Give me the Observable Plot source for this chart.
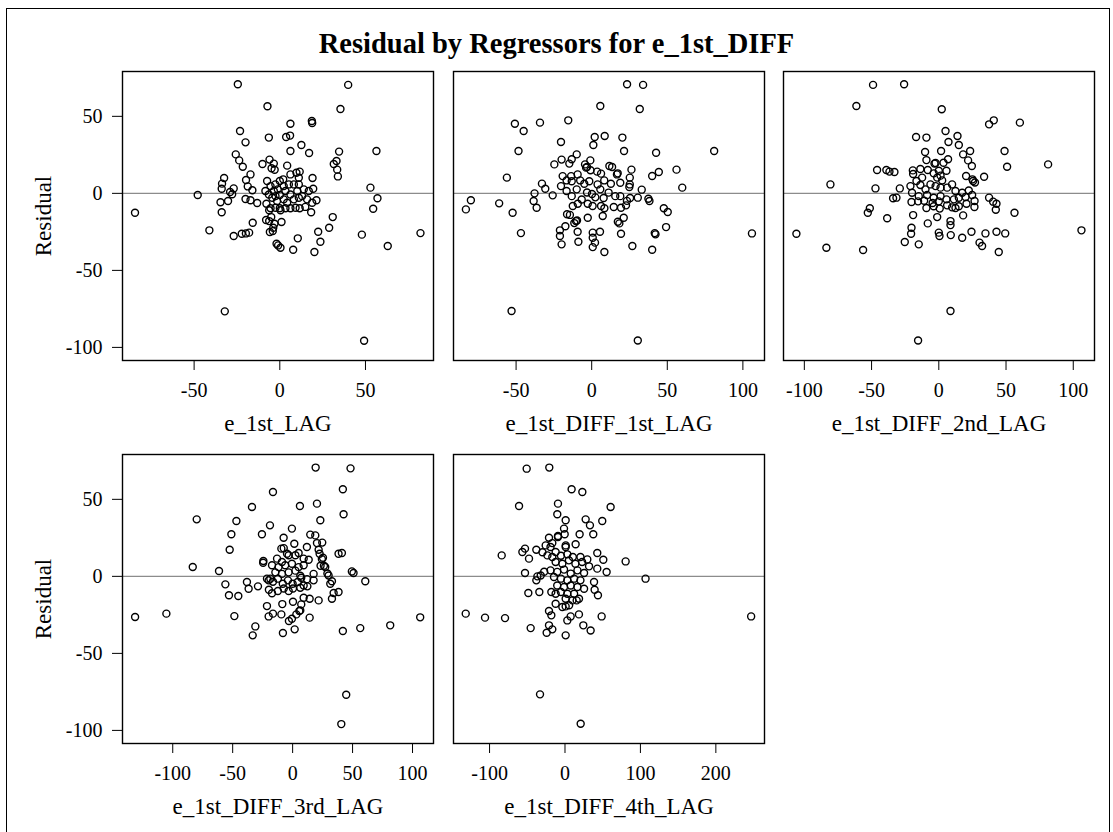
<!DOCTYPE html>
<html>
<head>
<meta charset="utf-8">
<script src="https://cdn.jsdelivr.net/npm/d3@7"></script>
<script src="https://cdn.jsdelivr.net/npm/@observablehq/plot@0.6"></script>
<style>
  html, body { margin: 0; padding: 0; background: white; }
  #chart { position: relative; width: 1113px; height: 832px; overflow: hidden; font-family: 'Liberation Serif', 'Times New Roman', serif; }
  #border { position: absolute; left: 6px; top: 8px; width: 1104px; height: 840px; border: 1.5px solid #000; box-sizing: border-box; }
  #title { position: absolute; left: 0; width: 1113px; top: 30px; text-align: center; font-weight: bold; font-size: 28.5px; line-height: 1; color: #000; }
  .panel { position: absolute; }
</style>
</head>
<body>
<div id="chart">
  <div id="border"></div>
  <div id="title">Residual by Regressors for e_1st_DIFF</div>
</div>
<script>
// ---- data (x value, residual) ----
const titleText = "Residual by Regressors for e_1st_DIFF";
const yLabel = "Residual";
const yTicks = [-100, -50, 0, 50];

const lag1Label = "e_1st_LAG";
const lag1Ticks = [-50, 0, 50];
const lag1Points = [
[-24.5,70.8],[39.9,70.4],[-7.2,56.5],[35.4,54.8],[18.7,47],[18.9,45.7],[6.2,45.2],[-23.2,40.5],[-20,33.1],[-6.4,36.2],[3.7,36.6],[6,37.5],[12.6,31.4],[6.2,27.5],[17.1,26.2],[34.6,27.1],[56.4,27.5],[-25.7,25.3],[-23.7,21.4],[-21.6,17.3],[-10.1,19.1],[-6,21.9],[4.3,18],[31.5,19.1],[33.1,21],[33.5,15.4],[33.9,11],[-32.5,10],[-33.7,6.3],[-33.9,3],[-26.9,3.2],[-29,0.9],[-27.8,-0.6],[-47.9,-1.1],[-30.2,-5],[-34.6,-5.8],[-33.9,-12.3],[-84.5,-12.6],[-41.1,-24],[-26.9,-27.7],[-22.2,-26.2],[-19.8,-26],[-17.9,-25.5],[-15.8,-19.1],[-17.1,12.3],[-19.7,8.7],[-18.7,4.5],[-16,2],[-20,-3.7],[-17.1,-4.5],[-13.2,-6.3],[-8,-17.3],[-6.2,-18],[-5.8,-25.1],[-4.1,-24.5],[-3.1,-19.7],[1,-18.6],[-1.9,-32.7],[-1,-33.8],[0.4,-35.3],[7.8,-36.6],[10.5,-29.2],[20.2,-38.1],[22.4,-24.9],[23.7,-31.4],[28.8,-22.3],[30.9,-15.4],[18.3,-12.3],[21.4,-4.5],[19.5,3],[19.1,10],[52.9,3.7],[57,-3.2],[54.5,-10],[47.9,-26.8],[63,-34.2],[82.1,-25.8],[-32.1,-76.6],[49.2,-95.7],
[-5.0,-15.4],[-3.8,-22.3],
[-3.5,19.3],[-4.8,16.3],[-3.0,15.3],[6.2,12.3],[9.7,13.4],[11.6,14.1],[11.1,10.1],[2.0,9.1],[0.0,8.0],[-7.4,8.0],[-5.4,4.7],[-2.6,5.8],[-1.2,2.6],[2.3,4.7],[5.3,5.8],[8.2,5.8],[11.1,5.8],[14.0,2.6],[16.9,1.5],[-8.4,1.5],[-6.4,-0.7],[-4.4,-2.9],[-2.5,-1.8],[0.0,-1.1],[2.3,-3.9],[6.2,-0.7],[8.2,-3.9],[11.1,-2.9],[13.0,-1.8],[15.9,-3.9],[18.9,-6.1],[-7.8,-6.7],[-5.4,-9.7],[-2.5,-9.3],[0.0,-9.7],[3.3,-9.7],[6.2,-9.7],[9.2,-9.3],[11.6,-9.7],[14.9,-8.8],[-6.2,-11.0],[0.4,-11.0],[4.3,-6.1],[-1.6,-5.0],[10.2,1.5],[3.3,1.5],[-3.5,1.5]
];

const diffLag1Label = "e_1st_DIFF_1st_LAG";
const diffLag1Ticks = [-50, 0, 50, 100];
const diffLag1Points = [
[23.4,70.8],[34,70.4],[5.7,56.7],[31.8,54.8],[-50.8,45.2],[-34.2,45.9],[-15.5,47.4],[-45,40.5],[2,36.6],[8.6,37.2],[20.3,36.2],[-20.3,33.3],[1.1,31.4],[-48.4,27.5],[21.4,27.5],[42.6,26.4],[81,27.5],[-9.9,25.3],[-13.2,22.1],[-19.9,21.9],[-24.7,18.8],[-14.8,19.3],[-4.4,18.8],[-0.9,21.4],[-3.1,17.1],[11.7,17.8],[13.5,17.1],[17.2,13],[26.3,15.4],[44.4,13.9],[56.1,15.4],[40,11.3],[-56.1,10.2],[59.9,3.7],[33.1,2.4],[25.2,10.2],[25.2,5.8],[-32.9,6.3],[-30.7,3],[-25.8,-1.3],[-37.8,0],[-38.4,-5],[-36.4,-9.3],[-79.9,-4.5],[-83.2,-10.4],[-61.2,-6.5],[-52.3,-12.6],[-46.8,-25.8],[-53,-76.4],[30.5,-95.5],[106,-26],[37.5,-3.5],[38.2,-5],[47.7,-9.7],[50.3,-12.1],[49.2,-21.9],[41.7,-25.8],[42.2,-26.6],[40,-36.6],[26.9,-34.2],[8.4,-38.1],[19.4,-26.2],[18.3,-19.5],[21.2,-15.8],[5.5,-24.9],[0.7,-25.5],[0.7,-28.8],[2.2,-32],[0.7,-34.9],[-8.8,-31.4],[-9.3,-24.9],[-10.4,-18],[-11.5,-19.3],[-16.3,-13.6],[-17.4,-21.4],[-21,-24],[-21,-27.7],[-19.9,-33.1],[-2.6,-15.8],[7.3,-14.7],[14.6,-8.9],[22.7,-7.8],[30.5,-2.8],
[-3.7,16.7],[-0.8,15.0],[3.6,14.1],[6.2,12.8],[16.7,12.3],[-19.2,11.2],[-13.6,11.2],[-16.6,8.4],[-13.2,7.9],[-7.6,8.4],[-9.3,12.3],[-4.9,6.2],[-1.6,7.9],[3.9,5.8],[8.3,8.4],[12.7,6.2],[18.9,6.9],[24.9,4.1],[-20.3,4.7],[-16.6,1.5],[-13.2,-1.8],[-9.9,2.6],[-6.6,-4.0],[-3.1,0.6],[0.2,-0.4],[2.4,-2.6],[5.7,2.6],[7.9,-3.0],[11.2,0.5],[15.6,-1.8],[18.9,-1.8],[23.3,-4.9],[25.4,-3.0],[-12.5,-8.2],[-9.2,-6.7],[-2.6,-6.7],[0.6,-8.2],[6.2,-8.2],[8.4,-9.7],[19.4,-9.3],[-14.4,-14.0],[17.3,-18.4],[-9.7,-17.6]
];

const diffLag2Label = "e_1st_DIFF_2nd_LAG";
const diffLag2Ticks = [-100, -50, 0, 50, 100];
const diffLag2Points = [
[-48.9,70.4],[-25.8,70.8],[-61.3,56.7],[2.2,54.6],[37.4,44.8],[40.9,47.4],[60.3,45.9],[5,40.5],[-16.9,36.6],[-9.2,36.2],[13.9,37.2],[7.2,33.3],[14.9,31.4],[1.7,27.5],[23.3,27.5],[48.9,27.5],[-10.2,26.8],[18.1,25.3],[21.8,21.4],[6.9,22.1],[-9.2,21.6],[-3.2,19.3],[3.5,19.9],[24.6,17.8],[50.8,17.3],[81.3,18.8],[-45.9,15.2],[-39,15.2],[-36.7,14.1],[-33,13.9],[-19.3,14.9],[33.7,10.8],[20.3,11.3],[25,9.1],[25.5,8],[-80.6,5.8],[-47.1,3.2],[-29,3.2],[-34,-3.2],[-31.5,-2.8],[-51.3,-9.7],[-52.8,-12.6],[-38.4,-16.2],[-105.9,-26.2],[-83.6,-35.3],[-56.3,-36.8],[-25.3,-31.6],[-14.9,-33.1],[-20.3,-22.3],[-20.6,-26.2],[-19.1,-14.1],[-8.2,-19.5],[-1.2,-15.4],[0,-25.5],[0.5,-27.7],[8.7,-18],[8.7,-20.6],[8.9,-27.1],[17.4,-28.8],[24.3,-24.9],[30.3,-32],[32.2,-34.2],[34.7,-26],[42.9,-24.9],[49.4,-26],[44.6,-38.1],[18.1,-14.3],[42.4,-10.6],[40.4,-5.4],[42.9,-6.7],[37.4,-2.8],[56.3,-12.6],[106.1,-24],[8.7,-76.4],[-15.4,-95.5],[26.5,-8.9],
[-2.4,19.7],[-19.1,12.6],[-13.7,15.8],[-8.2,15.2],[-3.8,13.0],[0.0,14.7],[1.3,11.5],[5.7,14.7],[2.5,8.4],[-1.2,10.2],[-12.4,10.2],[-16.6,8.0],[-21.1,4.7],[-13.7,5.4],[-9.9,2.6],[-6.2,5.8],[-2.4,4.7],[1.3,3.7],[6.2,3.7],[9.9,5.8],[12.4,1.5],[17.4,0.4],[22.3,1.9],[-19.9,0.4],[-14.9,-1.8],[-8.7,-1.1],[-3.8,-2.9],[1.3,-1.8],[5.7,-3.9],[11.2,-3.9],[14.9,-2.9],[19.9,-2.4],[24.8,-1.1],[-20.3,-5.6],[-15.4,-5.2],[-10.9,-4.8],[-4.6,-6.3],[0.0,-5.2],[6.2,-7.8],[9.9,-9.1],[14.9,-8.4],[20.6,-6.7],[-9.2,-9.5],[-3.8,-8.4],[0.7,-9.9],[12.4,-9.5],[26.9,7.0],[26.6,-5]
];

const diffLag3Label = "e_1st_DIFF_3rd_LAG";
const diffLag3Ticks = [-100, -50, 0, 50, 100];
const diffLag3Points = [
[19.2,70.6],[48.3,70.1],[-16.4,54.8],[41.9,56.5],[-33.9,45],[6.1,45.7],[20.3,47.2],[-80,37],[-46.9,35.9],[23.1,36.4],[42.5,40.3],[-18.9,33.1],[-51.1,27.3],[-25.6,27.3],[-7.5,25.1],[-0.6,31],[14.7,27.1],[18.9,26.6],[24.7,21.9],[1.4,21.2],[11.9,19.1],[20.3,21.6],[-9.4,18],[-52.5,17.3],[21.7,17.3],[22.5,14.7],[38.3,14.7],[41.1,15.2],[25.3,12.1],[-24.4,10],[-83.3,6.1],[-61.4,3.5],[-56.1,-5.2],[-38.1,-3.7],[-36.7,-8],[-28.9,-6.5],[-53.1,-12.3],[-45.3,-12.8],[-48.6,-25.8],[-131.4,-26.4],[-105.3,-24.2],[-33.3,-38.3],[-31.1,-32.5],[-21.4,-19.3],[-20,-26],[-16.4,-24.2],[-9.4,-24.7],[-8.6,-18],[-8.1,-36.8],[-3.1,-29],[-0.6,-27.5],[1.7,-34.4],[3.1,-24.7],[5.6,-22.5],[6.4,-22.1],[7.2,-18.2],[0.3,-16.5],[14.2,-26.8],[14.2,-14.5],[21.7,-15.6],[41.9,-35.5],[56.4,-33.6],[81.4,-31.8],[106.4,-26.6],[60.6,-3.2],[49.4,3.2],[50.8,2.2],[38.3,-10.2],[34.2,-10.8],[32.8,-14.5],[31.4,-4.8],[30,0.6],[27.2,6.1],[44.7,-76.9],[40.6,-95.9],[7.2,-0.9],
[-7.4,18.3],[-4.7,14.7],[-13.0,11.5],[-8.9,9.3],[-3.3,13.7],[2.3,13.7],[5.0,15.2],[9.2,11.5],[13.4,10.8],[-17.2,7.2],[-11.7,6.0],[-6.2,7.2],[-0.6,8.2],[5.0,6.0],[9.2,7.2],[-14.4,2.6],[-8.9,1.6],[-3.3,2.6],[2.3,3.7],[6.4,0.4],[12.0,-1.8],[17.5,1.6],[-21.4,-1.5],[-20.0,-2.6],[-18.6,-1.5],[-16.4,-3.5],[-12.3,-1.5],[-8.2,-4.8],[-3.9,-2.6],[0.0,-4.8],[4.2,-3.7],[9.2,-5.9],[-19.8,-8.7],[-12.3,-9.5],[-7.4,-7.9],[-3.3,-9.5],[0.3,-7.9],[6.4,-7.4],[12.3,-6.5],[17.5,-2.6],[9.2,-13.9],[-17.2,-11.0],[24.4,11.2],[23.3,6.9],[26.1,6.9],[29,1.9],[32.8,-3.2],[-24.6,8.8]
];

const diffLag4Label = "e_1st_DIFF_4th_LAG";
const diffLag4Ticks = [-100, 0, 100, 200];
const diffLag4Points = [
[-50.8,69.9],[-20.8,70.6],[8.8,56.5],[23,54.8],[-60.9,45.7],[-9.3,47.2],[60.5,45],[-10.2,40.3],[0.9,36.4],[27.4,37],[33.1,33.1],[49.4,35.9],[-1.3,31],[-0.4,27.3],[37.5,27.3],[19.4,27.3],[-9.3,26.2],[-21.2,25.1],[-16.8,21.6],[14.1,20.8],[0.9,19.1],[-53,18],[-56.5,15.8],[-38,17.3],[-47.7,11.5],[-83.9,13.6],[42.8,15.2],[50.8,10.8],[80.4,9.7],[-53,2.2],[-36.6,0],[-38,-2.6],[-32.2,0.6],[106.8,-1.5],[55.2,2.8],[42.8,5],[39.3,-8.7],[43.7,-12.3],[-48.6,-10.8],[-34,-10.2],[-18.1,-10.2],[-12.4,-17.8],[-131.6,-24.2],[-106,-26.8],[-79.5,-27.1],[-45.5,-33.6],[-24.3,-36.6],[-16.8,-34.4],[-21.2,-31.8],[-18.1,-25.3],[-21.2,-22.5],[0.9,-38.3],[3.1,-28.6],[7.5,-26],[18.5,-24.7],[24.3,-31.8],[34,-35.1],[48.6,-26],[15.5,-15.6],[0.9,-19.5],[-33.1,-76.6],[20.8,-95.7],[246.8,-26],
[-25.6,20.1],[-19.2,19.1],[-12.4,15.8],[-29.9,15.6],[-23.3,13.6],[-16.8,12.6],[1.0,20.1],[-5.4,13.4],[3.1,14.3],[10.4,12.6],[20.5,12.6],[29.6,11],[-12.4,9.3],[-3.5,8.2],[5.2,10.4],[13.8,8.2],[22.7,9.3],[31.9,6.5],[-19.2,3.9],[-10.3,2.9],[-1.3,4.4],[7.6,1.8],[16.5,3.9],[25.3,2.2],[-14.6,-0.4],[-5.4,-1.5],[3.1,-2.6],[12.1,-1.5],[20.5,-2.6],[-10.3,-5.9],[-1.3,-6.9],[7.6,-5.9],[16.5,-6.9],[25.3,-8.0],[-5.4,-10.2],[3.1,-11.3],[12.1,-11.3],[-12.4,-11.3],[0.9,-14.5],[9.9,-15.6],[18.6,-14.5],[-3.5,-19.9],[5.5,-18.8],[-27.6,3.0],[38.5,-3.7],[-9.3,25.5]
];

// ---- panel layout ----
const FONT = "'Liberation Serif', 'Times New Roman', serif";
const yDomain = [-108.5, 79.1];
const panels = [
  {pts: lag1Points,     label: lag1Label,     ticks: lag1Ticks,     domain: [-91.8, 89.7],   left: 122,   top: 70.5, showY: true},
  {pts: diffLag1Points, label: diffLag1Label, ticks: diffLag1Ticks, domain: [-91.4, 114.3],  left: 452.5, top: 70.5, showY: false},
  {pts: diffLag2Points, label: diffLag2Label, ticks: diffLag2Ticks, domain: [-115.5, 115.8], left: 783,   top: 70.5, showY: false},
  {pts: diffLag3Points, label: diffLag3Label, ticks: diffLag3Ticks, domain: [-141.9, 117.5], left: 122,   top: 454,  showY: true},
  {pts: diffLag4Points, label: diffLag4Label, ticks: diffLag4Ticks, domain: [-147.8, 264.5], left: 452.5, top: 454,  showY: false}
];

const chart = document.getElementById("chart");
document.getElementById("title").textContent = titleText;
const W = 311, H = 289;
for (const p of panels) {
  const ml = p.showY ? p.left : 4;
  const mt = 4, mr = 4, mb = 82;
  const marks = [
    Plot.ruleY([0], {stroke: "#8c8c8c", strokeWidth: 1.2}),
    Plot.dot(p.pts, {x: d => d[0], y: d => d[1], r: 3.5, stroke: "black", strokeWidth: 1.4, fill: "none"}),
    Plot.frame({stroke: "black", strokeWidth: 1.4}),
    Plot.axisX({ticks: p.ticks, tickSize: 10, tickPadding: 12, tickFormat: d => String(d), label: null, fontSize: 20}),
    Plot.text([p.label], {frameAnchor: "bottom", dy: 70, text: d => d, fontSize: 23, textAnchor: "middle", lineAnchor: "bottom", fill: "black"})
  ];
  if (p.showY) {
    marks.push(Plot.axisY({ticks: yTicks, tickSize: 10, tickPadding: 10, tickFormat: d => String(d), label: null, fontSize: 20}));
    marks.push(Plot.text([yLabel], {frameAnchor: "left", dx: -72, rotate: -90, text: d => d, fontSize: 23, textAnchor: "middle", lineAnchor: "bottom", fill: "black"}));
  }
  const svg = Plot.plot({
    width: ml + W + mr, height: mt + H + mb,
    marginLeft: ml, marginTop: mt, marginRight: mr, marginBottom: mb,
    style: {fontFamily: FONT, fontSize: "20px", color: "black", background: "transparent", overflow: "visible"},
    x: {domain: p.domain},
    y: {domain: yDomain, axis: p.showY ? undefined : null},
    marks
  });
  svg.classList.add("panel");
  svg.style.left = (p.left - ml) + "px";
  svg.style.top = (p.top - mt) + "px";
  chart.appendChild(svg);
}
</script>
</body>
</html>
